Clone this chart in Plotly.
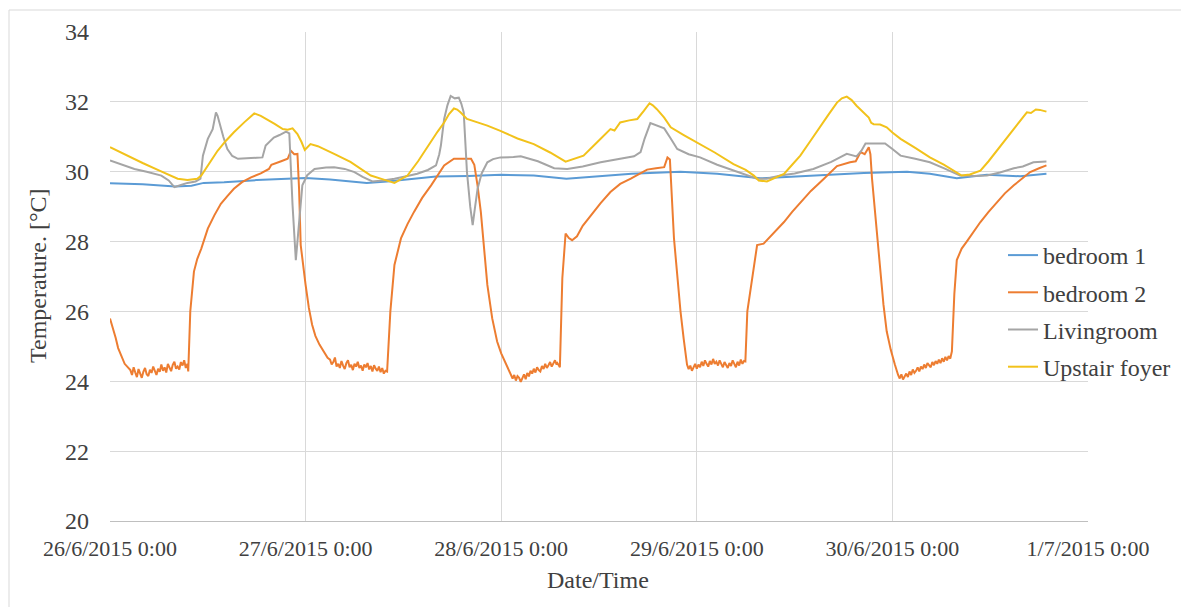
import numpy as np
import pandas as pd
import plotly.graph_objects as go

BASE = pd.Timestamp("2015-06-26 00:00")

# ---------------- data (hours since 26/6/2015 0:00, temperature °C) ----------------
bed1_hours = [0, 4, 8, 10, 11.5, 14, 18, 22, 24, 27, 31.5, 34, 37, 40, 44, 48, 52, 56, 60, 64,
              70, 74.5, 79.8, 82.3, 86.3, 92.5, 97.8, 100.6, 103.9, 107.6, 111.7, 114.9]
bed1_temps = [29.67, 29.64, 29.58, 29.6, 29.68, 29.7, 29.76, 29.8, 29.82, 29.78, 29.68, 29.72, 29.8,
              29.86, 29.88, 29.91, 29.89, 29.8, 29.87, 29.94, 30.0, 29.94, 29.81, 29.84, 29.87, 29.96,
              30.0, 29.94, 29.81, 29.91, 29.87, 29.94]

# bedroom 2: transitions + noisy night-time plateaus (plateau samples every 0.2 h)
bed2_p0_hours = [0, 0.35, 0.7, 1.0, 1.35, 1.8, 2.2]
bed2_p0_temps = [25.8, 25.55, 25.24, 24.95, 24.76, 24.5, 24.4]
bed2_n1_temps = [24.32, 24.18, 24.4, 24.25, 24.12, 24.35, 24.22, 24.1, 24.28, 24.38, 24.2, 24.15,
                 24.33, 24.24, 24.42, 24.3, 24.18, 24.36, 24.27, 24.48, 24.3, 24.4, 24.25, 24.5,
                 24.38, 24.29, 24.47, 24.56, 24.36, 24.42, 24.34, 24.55, 24.45, 24.6, 24.38, 24.5]
bed2_p1_hours = [9.6, 9.85, 10.3, 10.7, 11.2, 12.0, 12.8, 13.6, 14.4, 15.2, 16.2, 17.3, 18.5, 19.5,
                 19.8, 20.1, 21.0, 21.8, 22.2, 22.6, 23.0, 23.2, 23.4, 24.0, 24.4, 24.8, 25.2, 25.7,
                 26.2, 26.7]
bed2_p1_temps = [24.28, 26.0, 27.14, 27.5, 27.8, 28.37, 28.75, 29.08, 29.3, 29.51, 29.7, 29.84, 29.95,
                 30.08, 30.2, 30.22, 30.3, 30.37, 30.6, 30.5, 30.51, 29.5, 27.9, 26.76, 26.1, 25.62,
                 25.3, 25.05, 24.85, 24.67]
bed2_n2_temps = [24.62, 24.48, 24.55, 24.68, 24.42, 24.5, 24.38, 24.58, 24.45, 24.35, 24.52, 24.6,
                 24.4, 24.47, 24.32, 24.5, 24.42, 24.56, 24.38, 24.45, 24.3, 24.48, 24.4, 24.52,
                 24.34, 24.44, 24.28, 24.46, 24.36, 24.3, 24.42, 24.26, 24.38, 24.22, 24.3]
bed2_p2_hours = [34.0, 34.4, 34.9, 35.7, 36.5, 37.3, 38.3, 39.4, 40.2, 41.0, 42.2, 43.2, 44.3, 44.7,
                 45.1, 45.5, 45.9, 46.3, 46.9, 47.5, 48.0, 48.5, 49.0]
bed2_p2_temps = [24.28, 26.0, 27.33, 28.09, 28.5, 28.85, 29.25, 29.61, 29.9, 30.18, 30.37, 30.38,
                 30.37, 30.2, 29.6, 28.85, 27.8, 26.76, 25.8, 25.14, 24.8, 24.55, 24.3]
bed2_n3_temps = [24.22, 24.08, 24.18, 24.02, 24.15, 24.1, 23.98, 24.12, 24.2, 24.06, 24.24, 24.14,
                 24.3, 24.22, 24.36, 24.25, 24.4, 24.32, 24.28, 24.44, 24.35, 24.5, 24.38, 24.46,
                 24.55, 24.42, 24.52, 24.6, 24.48]
bed2_p3_hours = [54.9, 55.2, 55.5, 55.9, 56.3, 56.7, 57.3, 58.0, 59.0, 60.2, 61.4, 62.6, 63.9, 65.0,
                 65.9, 67.0, 68.0, 68.4, 68.7, 69.2, 69.6, 70.0, 70.4, 70.8]
bed2_p3_temps = [24.52, 24.4, 26.95, 28.23, 28.1, 28.04, 28.15, 28.45, 28.75, 29.1, 29.42, 29.65,
                 29.8, 29.95, 30.06, 30.1, 30.13, 30.41, 30.35, 28.09, 27.0, 26.0, 25.2, 24.48]
bed2_n4_temps = [24.35, 24.45, 24.3, 24.42, 24.5, 24.36, 24.48, 24.4, 24.56, 24.44, 24.6, 24.5,
                 24.42, 24.58, 24.48, 24.64, 24.5, 24.56, 24.45, 24.6, 24.52, 24.4, 24.55, 24.46,
                 24.38, 24.52, 24.44, 24.6, 24.48, 24.4, 24.56, 24.45, 24.62, 24.5, 24.58]
bed2_p4_hours = [77.96, 78.2, 78.8, 79.4, 80.2, 81.5, 82.7, 83.7, 84.7, 86.0, 87.6, 89.2, 90.8, 91.5,
                 92.1, 92.6, 93.1, 93.3, 93.5, 94.0, 94.5, 94.9, 95.3, 95.8, 96.3]
bed2_p4_temps = [24.57, 26.0, 27.0, 27.9, 27.94, 28.25, 28.56, 28.85, 29.1, 29.45, 29.8, 30.16,
                 30.27, 30.3, 30.56, 30.5, 30.7, 30.5, 29.8, 28.5, 27.14, 26.2, 25.43, 24.9, 24.48]
bed2_n5_temps = [24.3, 24.18, 24.08, 24.2, 24.05, 24.15, 24.22, 24.12, 24.28, 24.18, 24.34, 24.24,
                 24.3, 24.4, 24.28, 24.42, 24.35, 24.48, 24.38, 24.52, 24.44, 24.4, 24.55, 24.46,
                 24.58, 24.5, 24.62, 24.52, 24.66, 24.56, 24.7, 24.6, 24.72, 24.65]
bed2_p5_hours = [103.3, 103.6, 103.9, 104.5, 105.1, 106.0, 106.8, 107.8, 108.8, 109.8, 110.9, 112.0,
                 112.9, 114.0, 114.9]
bed2_p5_temps = [24.86, 26.5, 27.47, 27.8, 27.99, 28.3, 28.56, 28.85, 29.13, 29.38, 29.61, 29.82,
                 29.99, 30.1, 30.18]
bed2_noise_starts = [2.5, 27.0, 49.2, 71.0, 96.5]

living_hours = [0, 1.5, 3.0, 4.5, 6.3, 7.2, 7.9, 8.7, 9.5, 10.5, 11.1, 11.4, 12.0, 12.6, 12.85, 13.0,
                13.2, 13.4, 13.9, 14.4, 15.0, 15.7, 16.5, 17.3, 18.0, 18.7, 19.1, 19.6, 20.1, 20.8,
                21.6, 22.0, 22.4, 22.8, 23.2, 23.6, 24.2, 25.1, 26.5, 27.5, 28.8, 30.0, 31.0, 32.2,
                33.5, 34.9, 36.5, 37.7, 39.0, 40.0, 40.4, 40.6, 41.0, 41.4, 41.8, 42.3, 42.8, 43.1,
                43.4, 43.6, 43.8, 44.2, 44.5, 44.8, 45.1, 45.6, 46.3, 47.0, 47.9, 49.5, 50.4, 52.5,
                54.5, 56.1, 58.0, 60.2, 62.3, 64.3, 65.1, 65.6, 66.3, 67.0, 68.0, 68.8, 69.6, 71.0,
                72.4, 74.5, 76.5, 78.0, 79.4, 80.6, 82.25, 84.0, 86.3, 88.5, 90.4, 91.6, 92.2, 92.7,
                95.1, 96.0, 97.0, 98.8, 100.6, 102.5, 104.3, 106.0, 107.6, 109.2, 110.9, 112.0,
                113.3, 114.9]
living_temps = [30.32, 30.2, 30.08, 30.0, 29.89, 29.75, 29.56, 29.62, 29.68, 29.72, 29.8, 30.46,
                30.94, 31.22, 31.6, 31.7, 31.6, 31.41, 31.0, 30.65, 30.45, 30.37, 30.37, 30.39,
                30.4, 30.41, 30.75, 30.88, 30.98, 31.05, 31.15, 31.1, 29.04, 27.47, 28.66, 29.61,
                29.9, 30.08, 30.12, 30.13, 30.08, 29.99, 29.85, 29.72, 29.75, 29.8, 29.88, 29.94,
                30.05, 30.18, 30.5, 30.75, 31.51, 31.9, 32.17, 32.1, 32.12, 31.95, 31.7, 30.8,
                29.99, 29.0, 28.47, 29.0, 29.51, 29.95, 30.27, 30.36, 30.41, 30.42, 30.44, 30.3,
                30.1, 30.08, 30.15, 30.27, 30.35, 30.44, 30.56, 30.95, 31.39, 31.32, 31.24, 30.95,
                30.65, 30.5, 30.41, 30.2, 30.03, 29.9, 29.8, 29.8, 29.89, 29.95, 30.08, 30.28,
                30.51, 30.44, 30.6, 30.81, 30.81, 30.65, 30.46, 30.37, 30.27, 30.08, 29.89, 29.88,
                29.89, 29.98, 30.1, 30.15, 30.27, 30.29]

foyer_hours = [0, 2, 4, 6, 8.3, 9.5, 10.7, 11.2, 12.2, 13.2, 14.2, 15.2, 16.5, 17.7, 18.5, 19.3,
               20.2, 21.2, 21.8, 22.4, 23.0, 23.5, 23.9, 24.6, 25.5, 27.5, 29.5, 32.0, 32.8, 33.5,
               34.9, 35.5, 36.5, 37.8, 39.3, 40.2, 41.0, 41.6, 42.2, 42.6, 43.0, 43.8, 45.0, 46.3,
               47.9, 50.0, 52.0, 54.0, 55.9, 57.0, 58.1, 59.8, 61.4, 61.9, 62.6, 63.7, 64.7, 65.5,
               66.2, 66.6, 67.1, 68.0, 68.8, 70.4, 72.0, 74.2, 76.5, 78.0, 79.0, 79.6, 80.6, 81.8,
               82.7, 83.7, 84.7, 86.0, 87.2, 88.2, 89.2, 89.8, 90.4, 91.0, 91.6, 92.4, 93.1, 93.4,
               93.7, 94.5, 95.3, 96.0, 97.0, 98.8, 100.6, 102.3, 103.9, 104.5, 105.5, 106.8, 107.8,
               108.8, 109.8, 110.9, 111.7, 112.5, 113.0, 113.6, 114.1, 114.5, 114.9]
foyer_temps = [30.7, 30.47, 30.25, 30.04, 29.8, 29.76, 29.8, 29.89, 30.25, 30.6, 30.88, 31.13,
               31.42, 31.67, 31.6, 31.5, 31.37, 31.22, 31.2, 31.24, 31.08, 30.85, 30.62, 30.79,
               30.73, 30.51, 30.28, 29.89, 29.82, 29.78, 29.68, 29.75, 29.89, 30.3, 30.84, 31.15,
               31.41, 31.65, 31.81, 31.78, 31.7, 31.51, 31.42, 31.32, 31.17, 30.95, 30.79, 30.55,
               30.29, 30.38, 30.46, 30.85, 31.22, 31.18, 31.41, 31.47, 31.51, 31.74, 31.96, 31.9,
               31.79, 31.55, 31.27, 31.05, 30.84, 30.55, 30.22, 30.05, 29.89, 29.75, 29.72, 29.85,
               29.94, 30.2, 30.46, 30.9, 31.32, 31.65, 31.98, 32.1, 32.15, 32.05, 31.89, 31.72,
               31.55, 31.4, 31.36, 31.35, 31.27, 31.12, 30.94, 30.68, 30.41, 30.2, 29.99, 29.89,
               29.92, 30.03, 30.3, 30.6, 30.9, 31.22, 31.45, 31.7, 31.68, 31.78, 31.77, 31.74, 31.72]

series_names = ["bedroom 1", "bedroom 2", "Livingroom", "Upstair foyer"]
day_ticks = ["2015-06-26", "2015-06-27", "2015-06-28", "2015-06-29", "2015-06-30", "2015-07-01"]
day_labels = ["26/6/2015 0:00", "27/6/2015 0:00", "28/6/2015 0:00", "29/6/2015 0:00",
              "30/6/2015 0:00", "1/7/2015 0:00"]
y_ticks = [20, 22, 24, 26, 28, 30, 32, 34]

# ---------------- assemble bedroom 2 ----------------
noise_vals = [bed2_n1_temps, bed2_n2_temps, bed2_n3_temps, bed2_n4_temps, bed2_n5_temps]
pieces_h = [bed2_p0_hours, bed2_p1_hours, bed2_p2_hours, bed2_p3_hours, bed2_p4_hours, bed2_p5_hours]
pieces_t = [bed2_p0_temps, bed2_p1_temps, bed2_p2_temps, bed2_p3_temps, bed2_p4_temps, bed2_p5_temps]
bed2_hours, bed2_temps = [], []
for i in range(6):
    bed2_hours += list(pieces_h[i])
    bed2_temps += list(pieces_t[i])
    if i < 5:
        nh = bed2_noise_starts[i] + 0.2 * np.arange(len(noise_vals[i]))
        bed2_hours += list(nh)
        bed2_temps += list(noise_vals[i])


def to_time(hours):
    return BASE + pd.to_timedelta(np.asarray(hours, dtype=float), unit="h")


colors = ["#5B9BD5", "#ED7D31", "#A5A5A5", "#F2C21B"]
all_hours = [bed1_hours, bed2_hours, living_hours, foyer_hours]
all_temps = [bed1_temps, bed2_temps, living_temps, foyer_temps]

FONT = "Liberation Serif, Times New Roman, serif"
TXT = "#404040"

fig = go.Figure()
for name, h, t, c in zip(series_names, all_hours, all_temps, colors):
    fig.add_trace(go.Scatter(x=to_time(h), y=t, mode="lines", name=name, legendgroup=name,
                             line=dict(color=c, width=2)))

# page has an 8px body margin: figure coordinates = page coordinates - 8
OFF = 8
W, H = 1189 - OFF, 607 - OFF
L, T = 110 - OFF, 32 - OFF
R = W - (1088 - OFF)
B = H - (521 - OFF)
pw, ph = W - L - R, H - T - B

def px_x(p):  # page pixel -> paper
    return (p - OFF - L) / pw

def px_y(p):
    return (H - B - (p - OFF)) / ph

fig.update_layout(
    width=W, height=H,
    margin=dict(l=L, r=R, t=T, b=B, pad=0),
    paper_bgcolor="white", plot_bgcolor="white",
    font=dict(family=FONT, color=TXT),
    showlegend=True,
    legend=dict(x=px_x(1003), y=px_y(233), xanchor="left", yanchor="top",
                bgcolor="rgba(0,0,0,0)", font=dict(size=24, family=FONT, color=TXT),
                tracegroupgap=3, itemwidth=30),
    xaxis=dict(type="date", range=[day_ticks[0], day_ticks[-1]], tickvals=day_ticks,
               ticktext=day_labels, showgrid=True, gridcolor="#D9D9D9", gridwidth=1,
               showline=True, linecolor="#BFBFBF", linewidth=1, zeroline=False,
               ticks="", tickfont=dict(size=22, family=FONT, color=TXT), ticklabelstandoff=8),
    yaxis=dict(range=[20, 34], tickvals=y_ticks, showgrid=True, gridcolor="#D9D9D9",
               gridwidth=1, zeroline=False, showline=False, ticks="",
               tickfont=dict(size=24, family=FONT, color=TXT), ticklabelstandoff=20),
    annotations=[
        dict(text="Temperature. [°C]", xref="paper", yref="paper", x=px_x(38), y=px_y(276),
             xanchor="center", yanchor="middle", textangle=-90, showarrow=False,
             font=dict(size=24, family=FONT, color=TXT)),
        dict(text="Date/Time", xref="paper", yref="paper", x=px_x(598), y=px_y(580),
             xanchor="center", yanchor="middle", showarrow=False,
             font=dict(size=24, family=FONT, color=TXT)),
    ],
    shapes=[
        dict(type="rect", xref="paper", yref="paper", x0=px_x(9), x1=px_x(1189 + 20),
             y0=px_y(10), y1=px_y(607 + 20), line=dict(color="#D9D9D9", width=1),
             fillcolor="rgba(0,0,0,0)", layer="below"),
    ],
)

fig.write_html("out.html")
